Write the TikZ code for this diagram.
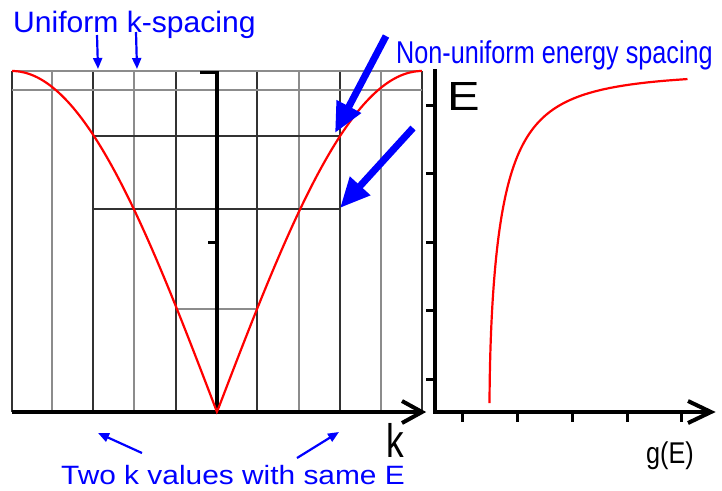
\documentclass[tikz,border=0pt]{standalone}
\usepackage{fontspec}
\setmainfont{Liberation Sans}
\usetikzlibrary{arrows.meta}
\definecolor{gdark}{RGB}{50,50,50}
\definecolor{glight}{RGB}{140,140,140}
\tikzset{
  darkline/.style={draw=gdark, line width=1.2pt},
  lightline/.style={draw=glight, line width=1.2pt},
  axisline/.style={draw=black, line width=4pt},
  tickline/.style={draw=black, line width=3pt},
  curve/.style={draw=red, line width=2.2pt},
  smallarrow/.style={draw=blue, line width=2.2pt, -{Triangle[length=11pt,width=9pt]}},
  bigarrow/.style={draw=blue, line width=7pt, -{Triangle[length=30pt,width=26pt]}},
  bluetext/.style={text=blue, inner sep=0pt, anchor=base west},
  blacktext/.style={text=black, inner sep=0pt, anchor=base west},
}
\begin{document}
\begin{tikzpicture}[x=1pt,y=-1pt]
\useasboundingbox (0,0) rectangle (722,490);
% grid of left plot
\foreach \xx in {12,93,176,257,340,422}{
  \draw[darkline] (\xx,71) -- (\xx,412);
}
\foreach \xx in {52,134,299,381}{
  \draw[lightline] (\xx,71) -- (\xx,412);
}
\draw[lightline] (12,71) -- (422,71);
\draw[lightline] (12,90) -- (422,90);
\draw[darkline] (93,136) -- (340,136);
\draw[darkline] (93,209) -- (340,209);
\draw[lightline] (176,309) -- (257,309);
% left axes
\draw[axisline] (12,412) -- (420,412);
\draw[line width=4pt, line cap=butt, line join=miter] (402,401) -- (422,412) -- (402,423);
\draw[axisline] (217,412) -- (217,71);
\draw[tickline] (200,72) -- (217,72);
\draw[tickline] (208,242) -- (217,242);
% dispersion curve
\draw[curve, line join=miter] plot[domain=-1:1, samples=201] ({217+205*\x}, {412-341*abs(sin(90*\x))});
% right axes
\draw[axisline] (435,69) -- (435,412);
\draw[axisline] (433,412) -- (708,412);
\draw[line width=4pt, line join=miter] (688,401) -- (711,412) -- (688,423);
\foreach \yy in {105,173,242,310,379}{
  \draw[tickline] (426,\yy) -- (435,\yy);
}
\foreach \xx in {462,517,572,627,681}{
  \draw[tickline] (\xx,412) -- (\xx,422);
}
% density of states curve
\draw[curve] plot[domain=0.026:0.977, samples=200, smooth] ({435+54.5/sqrt(1-\x*\x)}, {412-341*\x});
% labels
\node[bluetext] (uk) at (13,32) {\fontsize{29.5}{30}\selectfont\scalebox{1.02}[1]{Uniform k-spacing}};
\node[bluetext] (ne) at (396,63) {\fontsize{31.5}{32}\selectfont\scalebox{0.80}[1]{Non-uniform energy spacing}};
\node[bluetext] (tk) at (61,484) {\fontsize{26.5}{27}\selectfont\scalebox{1.127}[1]{Two k values with same E}};
\node[blacktext] (kl) at (386,457) {\fontsize{47}{48}\selectfont\scalebox{0.75}[1]{k}};
\node[blacktext] (el) at (447,110) {\fontsize{40.7}{41}\selectfont\scalebox{1.2}[1]{E}};
\node[blacktext] (gl) at (646,463) {\fontsize{30}{31}\selectfont\scalebox{0.84}[1]{g(E)}};
% arrows
\coordinate (a1s) at (97,35);  \coordinate (a1e) at (98,69);
\coordinate (a2s) at (136,32); \coordinate (a2e) at (137,69);
\draw[smallarrow] (a1s) -- (a1e);
\draw[smallarrow] (a2s) -- (a2e);
\coordinate (b1s) at (386,36);  \coordinate (b1e) at (335,133);
\coordinate (b2s) at (413,128); \coordinate (b2e) at (340,208);
\draw[bigarrow] (b1s) -- (b1e);
\draw[bigarrow] (b2s) -- (b2e);
\coordinate (c1s) at (142,453); \coordinate (c1e) at (98,433);
\coordinate (c2s) at (297,458); \coordinate (c2e) at (339,432);
\draw[smallarrow] (c1s) -- (c1e);
\draw[smallarrow] (c2s) -- (c2e);
\end{tikzpicture}
\end{document}
